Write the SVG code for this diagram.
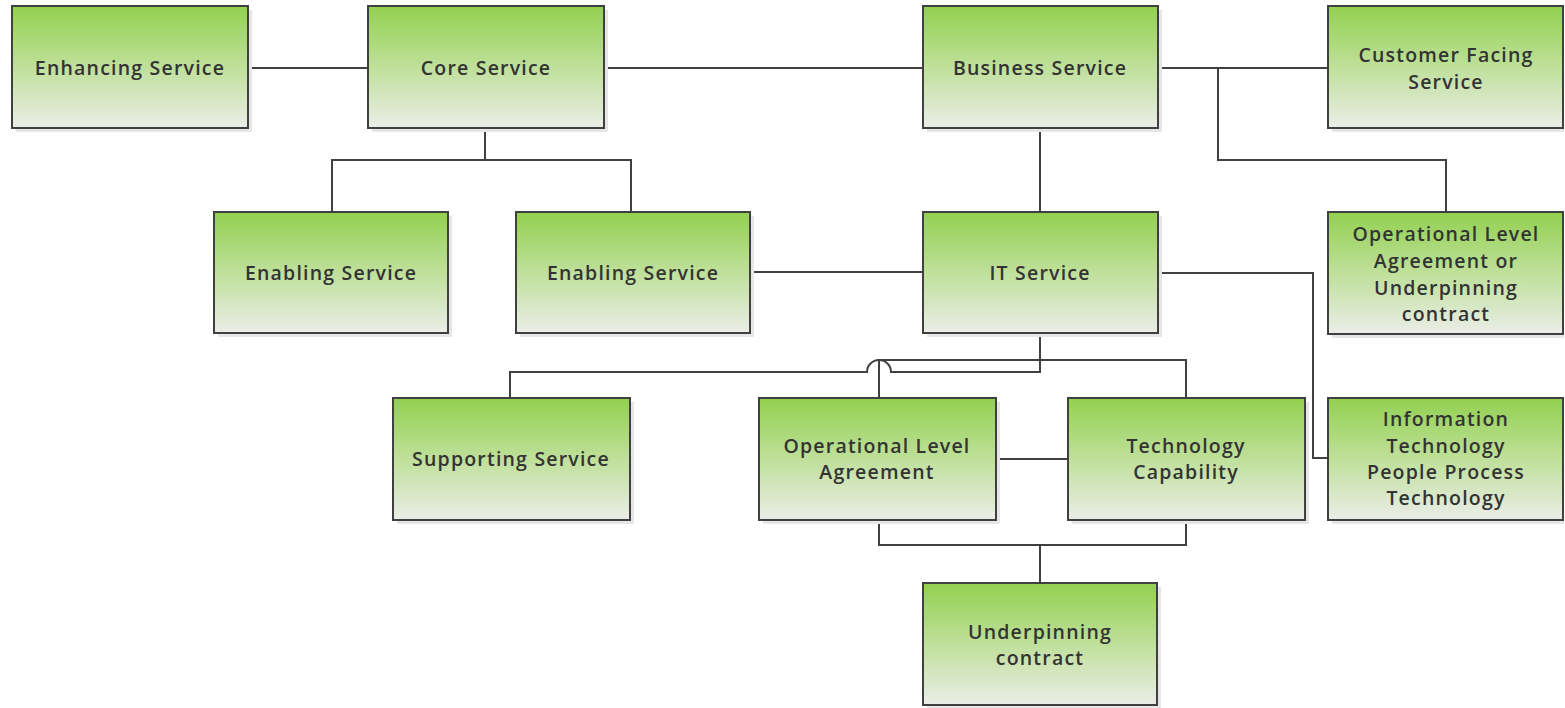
<svg xmlns="http://www.w3.org/2000/svg" width="1565" height="708" viewBox="0 0 1565 708">
<defs>
<linearGradient id="g" x1="0" y1="0" x2="0" y2="1">
<stop offset="0" stop-color="#92d050"/>
<stop offset="0.5" stop-color="#bfe09a"/>
<stop offset="1" stop-color="#ebede8"/>
</linearGradient>
</defs>
<style>
.box{fill:url(#g);stroke:#404040;stroke-width:2}
.sh{fill:#e6e6e6}
.t{font-family:"Open Sans","Noto Sans",sans-serif;font-size:19.5px;font-weight:600;letter-spacing:1.2px;fill:#333;text-anchor:middle}
.c{fill:none;stroke:#404040;stroke-width:2}
</style>
<rect width="1565" height="708" fill="#fff"/>
<g id="connectors">
<path class="c" d="M248 68H368M604 68H923M1158 68H1328M1218 68V160H1446V212"/>
<path class="c" d="M485 128V160M332 212V160H631V212"/>
<path class="c" d="M1040 128V212M750 272H923M1158 273H1313V458H1328"/>
<path class="c" d="M1040 333V372H891A12 12 0 0 0 867 372H510V398"/>
<path class="c" d="M879 398V360H1186V398"/>
<path class="c" d="M996 459H1068M879 520V545H1186V520M1040 545V583"/>
</g>
<g id="enhancing"><rect class="sh" x="16" y="10" width="236" height="122"/><rect class="box" x="12" y="6" width="236" height="122"/><text class="t" x="130" y="75">Enhancing Service</text></g>
<g id="core"><rect class="sh" x="372" y="10" width="236" height="122"/><rect class="box" x="368" y="6" width="236" height="122"/><text class="t" x="486" y="75">Core Service</text></g>
<g id="business"><rect class="sh" x="927" y="10" width="235" height="122"/><rect class="box" x="923" y="6" width="235" height="122"/><text class="t" x="1040" y="75">Business Service</text></g>
<g id="customer"><rect class="sh" x="1332" y="10" width="232" height="122"/><rect class="box" x="1328" y="6" width="235" height="122"/><text class="t" x="1446" y="62">Customer Facing</text><text class="t" x="1446" y="89">Service</text></g>
<g id="enabling1"><rect class="sh" x="218" y="216" width="234" height="121"/><rect class="box" x="214" y="212" width="234" height="121"/><text class="t" x="331" y="280">Enabling Service</text></g>
<g id="enabling2"><rect class="sh" x="520" y="216" width="234" height="121"/><rect class="box" x="516" y="212" width="234" height="121"/><text class="t" x="633" y="280">Enabling Service</text></g>
<g id="itservice"><rect class="sh" x="927" y="216" width="235" height="121"/><rect class="box" x="923" y="212" width="235" height="121"/><text class="t" x="1040" y="280">IT Service</text></g>
<g id="ola-uc"><rect class="sh" x="1332" y="216" width="232" height="122"/><rect class="box" x="1328" y="212" width="235" height="122"/><text class="t" x="1446" y="241">Operational Level</text><text class="t" x="1446" y="268">Agreement or</text><text class="t" x="1446" y="295">Underpinning</text><text class="t" x="1446" y="321">contract</text></g>
<g id="supporting"><rect class="sh" x="397" y="402" width="237" height="122"/><rect class="box" x="393" y="398" width="237" height="122"/><text class="t" x="511" y="466">Supporting Service</text></g>
<g id="ola"><rect class="sh" x="763" y="402" width="237" height="122"/><rect class="box" x="759" y="398" width="237" height="122"/><text class="t" x="877" y="453">Operational Level</text><text class="t" x="877" y="479">Agreement</text></g>
<g id="techcap"><rect class="sh" x="1072" y="402" width="237" height="122"/><rect class="box" x="1068" y="398" width="237" height="122"/><text class="t" x="1186" y="453">Technology</text><text class="t" x="1186" y="479">Capability</text></g>
<g id="infotech"><rect class="sh" x="1332" y="402" width="232" height="122"/><rect class="box" x="1328" y="398" width="235" height="122"/><text class="t" x="1446" y="426">Information</text><text class="t" x="1446" y="453">Technology</text><text class="t" x="1446" y="479">People Process</text><text class="t" x="1446" y="505">Technology</text></g>
<g id="underpinning"><rect class="sh" x="927" y="587" width="234" height="121"/><rect class="box" x="923" y="583" width="234" height="122"/><text class="t" x="1040" y="639">Underpinning</text><text class="t" x="1040" y="665">contract</text></g>
</svg>
